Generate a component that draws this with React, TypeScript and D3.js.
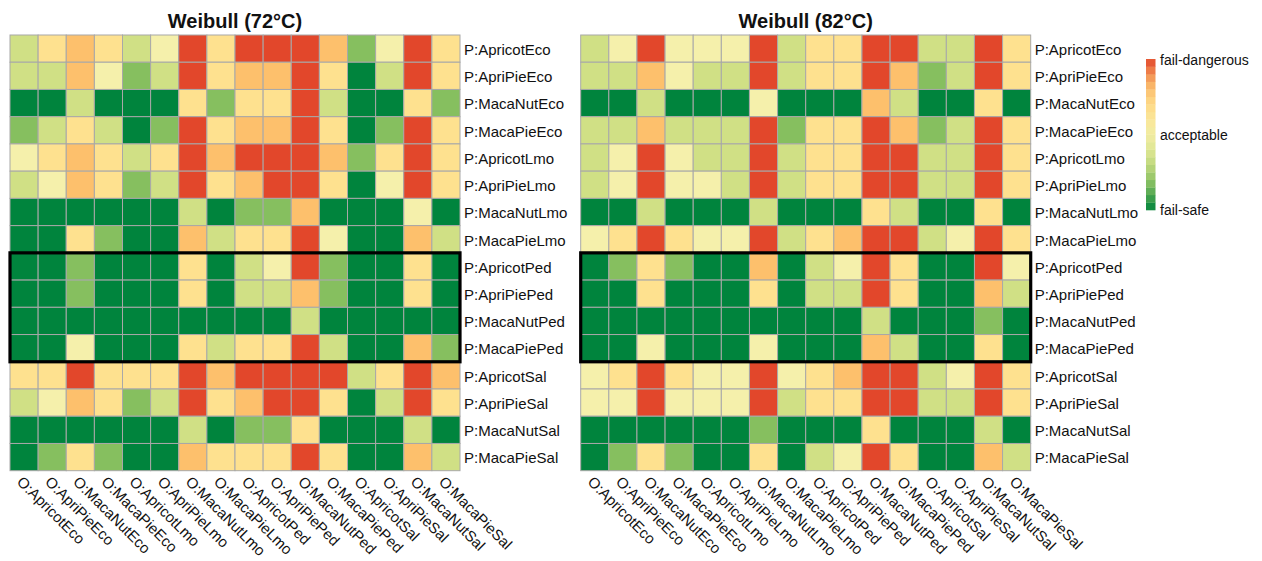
import React from "react";
import * as d3 from "d3";

// Treatments (rows = P:, columns = O:)
const treatments = [
  "ApricotEco", "ApriPieEco", "MacaNutEco", "MacaPieEco",
  "ApricotLmo", "ApriPieLmo", "MacaNutLmo", "MacaPieLmo",
  "ApricotPed", "ApriPiePed", "MacaNutPed", "MacaPiePed",
  "ApricotSal", "ApriPieSal", "MacaNutSal", "MacaPieSal",
];
const rowLabels = treatments.map((t) => "P:" + t);
const colLabels = treatments.map((t) => "O:" + t);

// Risk classes: 0 = fail-safe ... 3 = acceptable ... 6 = fail-dangerous
const classColors = ["#00843d", "#86bf5f", "#d0e085", "#f5f0ab", "#fee18f", "#fdc06c", "#e2472b"];
const legendLabels = ["fail-dangerous", "acceptable", "fail-safe"];
const highlightRows = ["P:ApricotPed", "P:MacaPiePed"];

const weibull72 = [
  [2, 4, 5, 4, 2, 3, 6, 4, 6, 6, 6, 5, 1, 3, 6, 4],
  [2, 2, 5, 3, 1, 2, 6, 4, 5, 5, 6, 4, 0, 2, 6, 4],
  [0, 0, 2, 0, 0, 0, 4, 1, 4, 4, 6, 2, 0, 0, 4, 1],
  [1, 2, 4, 2, 0, 1, 6, 4, 5, 5, 6, 4, 0, 1, 6, 4],
  [3, 4, 5, 4, 2, 4, 6, 5, 6, 6, 6, 5, 1, 4, 6, 4],
  [2, 3, 5, 4, 1, 2, 6, 4, 5, 6, 6, 4, 0, 3, 6, 4],
  [0, 0, 0, 0, 0, 0, 2, 0, 1, 1, 5, 0, 0, 0, 3, 0],
  [0, 0, 4, 1, 0, 0, 5, 2, 4, 4, 6, 3, 0, 0, 5, 2],
  [0, 0, 1, 0, 0, 0, 4, 0, 2, 3, 6, 1, 0, 0, 4, 0],
  [0, 0, 1, 0, 0, 0, 4, 0, 2, 2, 5, 1, 0, 0, 4, 0],
  [0, 0, 0, 0, 0, 0, 0, 0, 0, 0, 2, 0, 0, 0, 0, 0],
  [0, 0, 3, 0, 0, 0, 4, 2, 4, 4, 6, 2, 0, 0, 5, 1],
  [4, 4, 6, 4, 4, 4, 6, 5, 6, 6, 6, 6, 2, 4, 6, 5],
  [2, 3, 5, 4, 1, 2, 6, 4, 5, 6, 6, 4, 0, 2, 6, 4],
  [0, 0, 0, 0, 0, 0, 2, 0, 1, 1, 4, 0, 0, 0, 2, 0],
  [0, 1, 4, 1, 0, 0, 5, 4, 4, 4, 6, 4, 0, 0, 5, 2],
];

const weibull82 = [
  [2, 3, 6, 3, 3, 3, 6, 2, 4, 4, 6, 6, 2, 2, 6, 4],
  [2, 2, 5, 3, 2, 2, 6, 2, 4, 4, 6, 5, 1, 2, 6, 4],
  [0, 0, 2, 0, 0, 0, 3, 0, 0, 0, 5, 2, 0, 0, 4, 0],
  [2, 2, 5, 2, 2, 2, 6, 1, 4, 4, 6, 5, 1, 2, 6, 4],
  [2, 3, 6, 3, 2, 2, 6, 2, 4, 4, 6, 6, 2, 2, 6, 4],
  [2, 3, 6, 3, 3, 2, 6, 2, 4, 4, 6, 6, 2, 2, 6, 4],
  [0, 0, 2, 0, 0, 0, 2, 0, 0, 0, 4, 2, 0, 0, 4, 0],
  [3, 4, 6, 4, 3, 3, 6, 2, 4, 5, 6, 6, 2, 3, 6, 4],
  [0, 1, 4, 1, 0, 0, 5, 0, 2, 3, 6, 4, 0, 0, 6, 3],
  [0, 0, 4, 0, 0, 0, 4, 0, 2, 2, 6, 4, 0, 0, 5, 2],
  [0, 0, 0, 0, 0, 0, 0, 0, 0, 0, 2, 0, 0, 0, 1, 0],
  [0, 0, 3, 0, 0, 0, 3, 0, 0, 0, 5, 2, 0, 0, 4, 0],
  [3, 4, 6, 4, 3, 3, 6, 3, 4, 5, 6, 6, 2, 3, 6, 4],
  [3, 3, 6, 3, 3, 3, 6, 2, 4, 4, 6, 6, 2, 2, 6, 4],
  [0, 0, 0, 0, 0, 0, 1, 0, 0, 0, 4, 0, 0, 0, 2, 0],
  [0, 1, 4, 1, 0, 0, 4, 0, 2, 3, 6, 4, 0, 0, 5, 2],
];

const panels = [
  { title: "Weibull (72°C)", data: weibull72, left: 10 },
  { title: "Weibull (82°C)", data: weibull82, left: 580.7 },
];

const FONT = "'Liberation Sans', Arial, Helvetica, sans-serif";
const W = 1262;
const H = 561;
const gridW = 450;
const gridTop = 35;
const gridH = 435.7;

const color = d3
  .scaleOrdinal<number, string>()
  .domain(d3.range(classColors.length))
  .range(classColors);

function Heatmap({ title, data, left }: { title: string; data: number[][]; left: number }) {
  const x = d3.scaleBand<string>().domain(colLabels).range([left, left + gridW]);
  const y = d3.scaleBand<string>().domain(rowLabels).range([gridTop, gridTop + gridH]);
  const bw = x.bandwidth();
  const bh = y.bandwidth();
  const boxTop = y(highlightRows[0])!;
  const boxBottom = y(highlightRows[1])! + bh;
  const bottom = gridTop + gridH;

  return (
    <g>
      <text
        x={left + gridW / 2}
        y={28}
        textAnchor="middle"
        fontFamily={FONT}
        fontWeight="bold"
        fontSize={20}
        fill="#111"
      >
        {title}
      </text>
      {data.map((row, i) =>
        row.map((v, j) => (
          <rect
            key={`${i}-${j}`}
            x={x(colLabels[j])}
            y={y(rowLabels[i])}
            width={bw}
            height={bh}
            fill={color(v)}
            stroke="#a8a8a8"
            strokeWidth={1}
          />
        ))
      )}
      <rect
        x={left}
        y={boxTop}
        width={gridW}
        height={boxBottom - boxTop}
        fill="none"
        stroke="#000"
        strokeWidth={3.2}
      />
      {rowLabels.map((r) => (
        <text
          key={r}
          x={left + gridW + 4}
          y={y(r)! + bh / 2}
          dy="0.42em"
          fontFamily={FONT}
          fontSize={15}
          fill="#111"
        >
          {r}
        </text>
      ))}
      {colLabels.map((c) => (
        <text
          key={c}
          transform={`translate(${x(c)! + bw / 2},${bottom + 4}) rotate(45)`}
          dy="0.75em"
          fontFamily={FONT}
          fontSize={15}
          fill="#111"
        >
          {c}
        </text>
      ))}
    </g>
  );
}

function Legend() {
  const steps = 20;
  const top = 59;
  const bottom = 210;
  const interp = d3.interpolateRgbBasis(classColors);
  const ys = d3.scaleLinear().domain([0, steps]).range([bottom, top]);
  const labelY = d3.scalePoint<string>().domain(legendLabels).range([top + 1, bottom]);
  return (
    <g>
      {d3.range(steps).map((k) => (
        <rect
          key={k}
          x={1146}
          y={ys(k + 1)}
          width={9.5}
          height={ys(k) - ys(k + 1) + 0.3}
          fill={interp((k + 0.5) / steps)}
        />
      ))}
      {legendLabels.map((l) => (
        <text
          key={l}
          x={1160}
          y={labelY(l)}
          dy="0.35em"
          fontFamily={FONT}
          fontSize={14}
          fill="#111"
        >
          {l}
        </text>
      ))}
    </g>
  );
}

export default function App() {
  return (
    <svg
      width={W}
      height={H}
      viewBox={`0 0 ${W} ${H}`}
      style={{ position: "absolute", left: 0, top: 0, background: "#fff", display: "block" }}
    >
      <rect width={W} height={H} fill="#fff" />
      {panels.map((p) => (
        <Heatmap key={p.title} title={p.title} data={p.data} left={p.left} />
      ))}
      <Legend />
    </svg>
  );
}
